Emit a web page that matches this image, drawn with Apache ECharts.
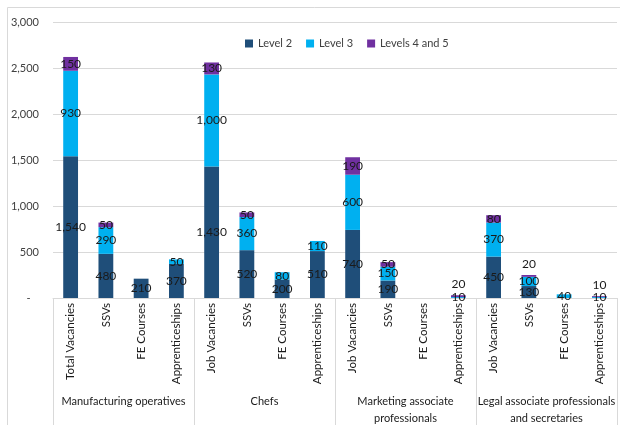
<!DOCTYPE html>
<html>
<head>
<meta charset="utf-8">
<script src="https://cdn.jsdelivr.net/npm/echarts@6/dist/echarts.min.js"></script>
<style>
  html, body { margin: 0; padding: 0; background: #fff; }
  #chart { width: 620px; height: 425px; }
</style>
</head>
<body>
<div id="chart"></div>
<script>
// Provision by qualification level, grouped by occupation
var categories = [
  'Total Vacancies', 'SSVs', 'FE Courses', 'Apprenticeships',
  'Job Vacancies', 'SSVs', 'FE Courses', 'Apprenticeships',
  'Job Vacancies', 'SSVs', 'FE Courses', 'Apprenticeships',
  'Job Vacancies', 'SSVs', 'FE Courses', 'Apprenticeships'
];
var groups = [
  'Manufacturing operatives',
  'Chefs',
  'Marketing associate\nprofessionals',
  'Legal associate professionals\nand secretaries'
];
var level2 = [1540, 480, 210, 370, 1430, 520, 200, 510, 740, 190, null, null, 450, 130, null, null];
var level3 = [930, 290, null, 50, 1000, 360, 80, 110, 600, 150, null, 10, 370, 100, 40, 10];
var level45 = [150, 50, null, null, 130, 50, null, null, 190, 50, null, 20, 80, 20, null, 10];
var yTicks = [0, 500, 1000, 1500, 2000, 2500, 3000];

var FONT = 'Lato, "Noto Sans", sans-serif';
var TEXT = '#1a1a1a';
var GRID = '#d9d9d9';

function fmt(v) {
  return Number(v).toLocaleString('en-US');
}

function makeSeries(name, values, color, smallOnTop) {
  return {
    name: name,
    type: 'bar',
    stack: 'total',
    barWidth: '42%',
    itemStyle: { color: color },
    label: {
      show: true,
      position: 'inside',
      color: TEXT,
      fontFamily: FONT,
      fontSize: 12,
      formatter: function (p) { return p.value == null ? '' : fmt(p.value); }
    },
    labelLayout: { hideOverlap: false },
    data: values.map(function (v) {
      if (v == null) return null;
      // very thin top segments carry their label just above the bar
      if (smallOnTop && v <= 20) {
        return { value: v, label: { position: 'top', distance: 5 } };
      }
      return v;
    })
  };
}

var chart = echarts.init(document.getElementById('chart'), null, { renderer: 'canvas' });

chart.setOption({
  animation: false,
  textStyle: { fontFamily: FONT },
  graphic: [{
    type: 'rect',
    shape: { x: 7.5, y: 7.5, width: 640, height: 440 },
    style: { fill: 'none', stroke: GRID, lineWidth: 1 },
    silent: true,
    z: -10
  }],
  legend: {
    top: 33,
    left: 240,
    icon: 'rect',
    itemWidth: 8,
    itemHeight: 8,
    itemGap: 14,
    textStyle: { color: '#404040', fontFamily: FONT, fontSize: 11 },
    data: ['Level 2', 'Level 3', 'Levels 4 and 5']
  },
  grid: {
    left: 53, right: 3, top: 22, bottom: 127,
    containLabel: false,
    outerBoundsMode: 'none'
  },
  xAxis: [{
    type: 'category',
    data: categories,
    position: 'bottom',
    axisLine: { show: true, lineStyle: { color: GRID } },
    axisTick: {
      show: true,
      length: 127,
      interval: function (index) { return index % 4 === 0; },
      lineStyle: { color: GRID }
    },
    axisLabel: {
      interval: 0,
      rotate: 90,
      margin: 5,
      color: TEXT,
      fontFamily: FONT,
      fontSize: 11.5
    }
  }, {
    type: 'category',
    data: groups,
    position: 'bottom',
    offset: 95,
    axisLine: { show: false },
    axisTick: { show: false },
    axisLabel: {
      interval: 0,
      margin: 0,
      lineHeight: 17,
      color: TEXT,
      fontFamily: FONT,
      fontSize: 11
    }
  }],
  yAxis: {
    type: 'value',
    min: yTicks[0],
    max: yTicks[yTicks.length - 1],
    interval: yTicks[1] - yTicks[0],
    axisLine: { show: false },
    axisTick: { show: false },
    splitLine: { lineStyle: { color: GRID } },
    axisLabel: {
      margin: 14,
      color: '#404040',
      fontFamily: FONT,
      fontSize: 11,
      formatter: function (v) { return v === 0 ? '-   ' : fmt(v); }
    }
  },
  series: [
    makeSeries('Level 2', level2, '#1f4e79', false),
    makeSeries('Level 3', level3, '#00b0f0', false),
    makeSeries('Levels 4 and 5', level45, '#7030a0', true)
  ]
});
</script>
</body>
</html>
